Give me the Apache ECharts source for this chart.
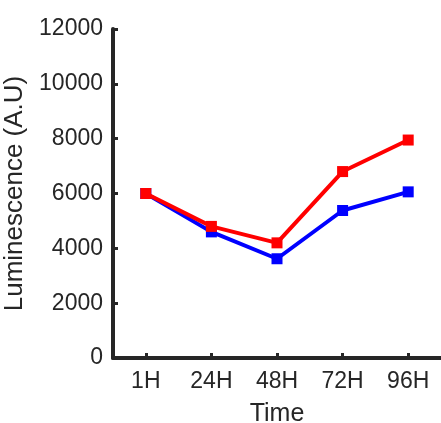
<!DOCTYPE html>
<html>
<head>
<meta charset="utf-8">
<script src="https://cdn.jsdelivr.net/npm/echarts@6/dist/echarts.min.js"></script>
<style>
  html, body { margin: 0; padding: 0; background: #fff; }
  #chart { width: 441px; height: 423px; }
</style>
</head>
<body>
<div id="chart"></div>
<script>
// Time points and luminescence readings for the two series
const timePoints = ['1H', '24H', '48H', '72H', '96H'];
const blueValues = [6000, 4600, 3620, 5380, 6060];
const redValues = [6000, 4800, 4200, 6800, 7950];
const yTicks = [0, 2000, 4000, 6000, 8000, 10000, 12000];

const axisColor = '#262626';
const font = 'Liberation Sans, Arial, Helvetica, sans-serif';

// Short, thick tick marks on both axes
const tickStyle = { show: true, inside: true, length: 5, lineStyle: { color: axisColor, width: 3 } };

const chart = echarts.init(document.getElementById('chart'), null, { renderer: 'canvas' });

chart.setOption({
  animation: false,
  backgroundColor: '#ffffff',
  grid: {
    left: 113, right: 0, top: 29, bottom: 65,
    containLabel: false,
    outerBoundsMode: 'none'
  },
  xAxis: {
    type: 'category',
    data: timePoints,
    boundaryGap: true,
    name: 'Time',
    nameLocation: 'middle',
    nameGap: 44,
    nameTextStyle: { color: axisColor, fontSize: 25, fontFamily: font },
    axisLine: { lineStyle: { color: axisColor, width: 4 } },
    axisTick: Object.assign({ alignWithLabel: true }, tickStyle),
    axisLabel: { color: axisColor, fontSize: 23, fontFamily: font, margin: 12 },
    splitLine: { show: false }
  },
  yAxis: {
    type: 'value',
    min: yTicks[0],
    max: yTicks[yTicks.length - 1],
    interval: yTicks[1] - yTicks[0],
    name: 'Luminescence (A.U)',
    nameLocation: 'middle',
    nameGap: 81,
    nameTextStyle: { color: axisColor, fontSize: 26, fontFamily: font },
    axisLine: { show: true, lineStyle: { color: axisColor, width: 4 } },
    axisTick: tickStyle,
    axisLabel: {
      color: axisColor, fontSize: 23, fontFamily: font, margin: 10,
      formatter: function (v) { return String(v); }
    },
    splitLine: { show: false }
  },
  series: [
    {
      name: 'Blue',
      type: 'line',
      data: blueValues,
      symbol: 'rect',
      symbolSize: 11,
      lineStyle: { color: '#0000ff', width: 4 },
      itemStyle: { color: '#0000ff' },
      z: 2
    },
    {
      name: 'Red',
      type: 'line',
      data: redValues,
      symbol: 'rect',
      symbolSize: 11,
      lineStyle: { color: '#ff0000', width: 4 },
      itemStyle: { color: '#ff0000' },
      z: 3
    }
  ]
});
</script>
</body>
</html>
